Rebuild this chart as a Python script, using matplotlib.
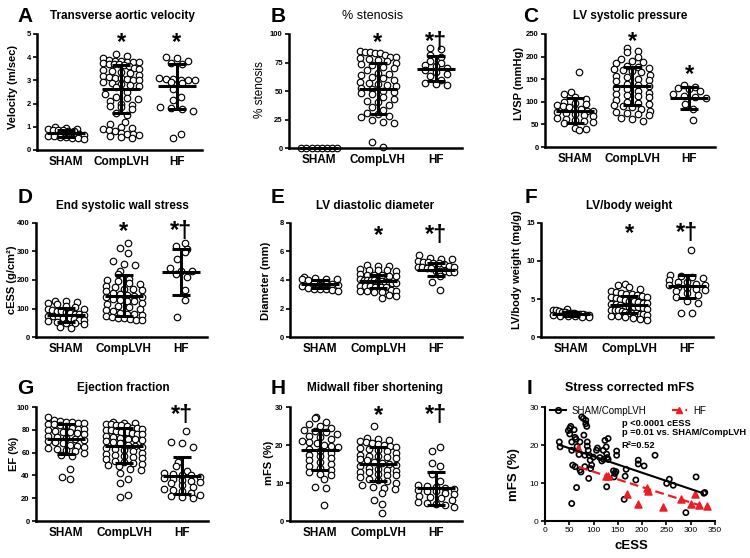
import numpy as np
import matplotlib
matplotlib.use('Agg')
import matplotlib.pyplot as plt
from matplotlib.lines import Line2D

plt.rcParams['font.family'] = ['Liberation Sans', 'DejaVu Sans']

W, H = 750, 558
groups = ['SHAM', 'CompLVH', 'HF']

# A - transverse aortic velocity (m/sec)
vel_sham = [1.0, 0.95, 0.92, 0.9, 0.88, 0.85, 0.85, 0.82, 0.8, 0.7, 0.65, 0.62, 0.6, 0.58, 0.55,
            0.52, 0.5, 0.47]
vel_comp = [4.15, 4.05, 3.95, 3.9, 3.85, 3.82, 3.8, 3.8, 3.78, 3.75, 3.72, 3.7, 3.7, 3.65, 3.6,
            3.55, 3.5, 3.45, 3.4, 3.35, 3.3, 3.25, 3.2, 3.15, 3.1, 3.1, 3.05, 3.0, 3.0, 2.95, 2.9,
            2.85, 2.8, 2.75, 2.7, 2.5, 2.4, 2.3, 2.25, 2.2, 2.1, 2.0, 1.95, 1.9, 1.85, 1.75, 1.6,
            1.5, 1.2, 1.1, 1.0, 0.95, 0.9, 0.85, 0.8, 0.75, 0.7, 0.7, 0.65, 0.6, 0.55, 0.5]
vel_hf = [4.0, 3.95, 3.85, 3.75, 3.7, 3.1, 3.05, 3.05, 3.0, 3.0, 3.0, 2.95, 2.9, 2.65, 2.3, 2.15,
          1.85, 1.8, 1.75, 1.7, 0.7, 0.5]
vel_mean = [0.72, 2.62, 2.74]
vel_sd = [0.14, 1.04, 0.98]

# B - % stenosis
sten_sham = [0, 0, 0, 0, 0, 0, 0, 0]
sten_comp = [85, 84, 84, 83, 83, 82, 80, 80, 79, 78, 77, 76, 75, 74, 73, 71, 70, 68, 66, 65, 64,
             62, 61, 60, 58, 57, 56, 55, 54, 53, 52, 50, 49, 48, 47, 45, 43, 41, 40, 38, 36, 33,
             31, 30, 28, 27, 25, 23, 22, 5, 1]
sten_hf = [88, 87, 82, 80, 76, 75, 73, 72, 70, 68, 67, 65, 63, 60, 57, 56, 55]
sten_mean = [0, 52, 69.5]
sten_sd = [0, 22.3, 11]

# C - LV systolic pressure (mmHg)
lvsp_sham = [167, 122, 118, 110, 107, 100, 98, 95, 92, 90, 88, 85, 83, 80, 80, 78, 75, 72, 70, 68,
             65, 62, 60, 58, 55, 52, 42, 40, 38]
lvsp_comp = [218, 213, 210, 200, 195, 190, 188, 185, 180, 178, 175, 172, 170, 168, 165, 160, 158,
             155, 150, 148, 145, 140, 138, 135, 130, 128, 125, 120, 118, 115, 112, 110, 105, 100,
             98, 95, 92, 90, 88, 85, 80, 78, 75, 72, 70, 65, 63, 57]
lvsp_hf = [137, 133, 130, 128, 125, 118, 112, 110, 108, 95, 85, 60]
lvsp_mean = [80.5, 136, 108.5]
lvsp_sd = [28, 42, 24]

# D - end systolic wall stress (g/cm2)
cess_sham = [128, 125, 122, 118, 115, 110, 105, 100, 98, 95, 92, 90, 88, 85, 82, 80, 78, 75, 72, 70,
             68, 65, 62, 60, 58, 55, 52, 50, 48, 45, 35, 32]
cess_comp = [330, 312, 293, 265, 255, 252, 230, 220, 205, 200, 195, 190, 185, 180, 175, 170, 168,
             165, 160, 155, 150, 148, 145, 142, 140, 135, 130, 128, 125, 120, 115, 110, 105, 100,
             95, 90, 85, 82, 80, 78, 75, 70, 68, 65, 62, 60, 60]
cess_hf = [330, 318, 310, 298, 272, 242, 232, 230, 222, 212, 165, 130, 70]
cess_mean = [76, 145, 229]
cess_sd = [25, 71, 81]

# E - LV diastolic diameter (mm)
diam_sham = [4.2, 4.15, 4.1, 4.1, 4.05, 4.0, 3.8, 3.75, 3.75, 3.7, 3.65, 3.6, 3.45, 3.4, 3.35,
             3.35, 3.3, 3.25]
diam_comp = [5.05, 5.0, 4.95, 4.75, 4.72, 4.7, 4.68, 4.65, 4.4, 4.38, 4.35, 4.33, 4.3, 4.3, 4.05,
             4.02, 4.0, 4.0, 3.98, 3.95, 3.9, 3.88, 3.85, 3.82, 3.8, 3.6, 3.58, 3.55, 3.52, 3.5,
             3.48, 3.3, 3.25, 3.22, 3.2, 3.18, 3.15, 2.95, 2.9, 2.75]
diam_hf = [5.75, 5.55, 5.5, 5.45, 5.3, 5.28, 5.25, 5.2, 5.2, 5.15, 4.95, 4.92, 4.9, 4.88, 4.85,
           4.82, 4.65, 4.62, 4.6, 4.58, 4.55, 4.3, 3.85, 3.3]
diam_mean = [3.74, 3.92, 4.72]
diam_sd = [0.28, 0.45, 0.45]

# F - LV/body weight (mg/g)
lvbw_sham = [3.7, 3.6, 3.5, 3.4, 3.35, 3.3, 3.2, 3.15, 3.1, 3.05, 3.0, 3.0, 2.95, 2.9, 2.85, 2.8,
             2.75, 2.7, 2.65, 2.6]
lvbw_comp = [7.0, 6.8, 6.6, 6.3, 6.0, 5.9, 5.8, 5.7, 5.6, 5.5, 5.4, 5.3, 5.2, 5.1, 5.0, 4.9, 4.8,
             4.7, 4.6, 4.5, 4.5, 4.4, 4.3, 4.2, 4.1, 4.0, 4.0, 3.9, 3.8, 3.7, 3.6, 3.6, 3.5, 3.4,
             3.3, 3.2, 3.2, 3.1, 3.0, 3.0, 2.9, 2.8, 2.7, 2.6, 2.5, 2.4, 2.2]
lvbw_hf = [11.5, 8.2, 8.0, 7.9, 7.7, 7.5, 7.3, 7.2, 7.0, 6.9, 6.8, 6.6, 6.5, 6.3, 6.2, 6.0, 5.8,
           5.5, 5.2, 4.8, 4.5, 3.2, 3.2]
lvbw_mean = [3.05, 4.25, 6.65]
lvbw_sd = [0.3, 1.15, 1.55]

# G - ejection fraction (%)
ef_sham = [91, 89, 88, 87, 87, 86, 86, 85, 85, 84, 83, 82, 81, 81, 80, 79, 78, 78, 77, 76, 75, 74,
           73, 72, 71, 70, 69, 68, 67, 66, 65, 64, 63, 62, 61, 60, 58, 57, 46, 39, 37]
ef_comp = [87, 86, 86, 85, 85, 84, 84, 83, 82, 82, 81, 80, 80, 79, 78, 78, 77, 76, 76, 75, 74, 73,
           72, 72, 71, 70, 69, 68, 67, 66, 65, 64, 63, 62, 61, 60, 59, 58, 57, 56, 55, 54, 53, 52,
           51, 50, 49, 48, 46, 45, 42, 37, 33, 23, 21]
ef_hf = [79, 69, 68, 65, 52, 48, 44, 42, 41, 40, 40, 39, 38, 37, 36, 35, 34, 33, 32, 30, 28, 27, 26,
         25, 23, 22, 21, 20]
ef_mean = [72, 66, 39.7]
ef_sd = [13.5, 15.5, 16.2]

# H - midwall fiber shortening (%)
mfs_sham = [27.5, 27.0, 26, 25.5, 25, 24.5, 24, 23.8, 23.5, 23, 22.5, 22, 21.5, 21, 20.8, 20.5, 20,
            19.8, 19.5, 19, 18.5, 18, 17.5, 17, 16.5, 16, 15.5, 15, 14.5, 14, 13.5, 13, 12.5, 12,
            11, 9, 8.8, 4.3]
mfs_comp = [25, 21.8, 21.5, 21.2, 21, 20.8, 20.5, 20.2, 20, 19.8, 19.5, 19.2, 19, 18.8, 18.5, 18,
            17.5, 17.2, 17, 16.8, 16.5, 16.2, 16, 15.5, 15.2, 15, 14.8, 14.5, 14, 13.8, 13.5, 13.2,
            13, 12.8, 12.5, 12.2, 12, 11.5, 11, 10.8, 10.5, 10, 9.5, 9, 8.8, 8.5, 7.5, 5.5, 4.5, 2]
mfs_hf = [19.5, 18.5, 15.2, 14.5, 12.5, 10.5, 9.5, 9.2, 9, 8.8, 8.5, 8.2, 8, 7.8, 7.5, 7, 6.5, 6.2,
          6, 5.5, 5, 4.8, 4.5, 4.2, 3.8]
mfs_mean = [18.7, 15.0, 8.6]
mfs_sd = [5.2, 4.5, 4.3]

# I - stress corrected mFS
ess_sc = [29.5, 31, 48, 51, 53, 51, 55, 55, 55, 57, 62, 60, 62, 64, 65, 66, 70, 72, 72, 74, 75.5, 79,
          80, 82, 82, 84, 84, 86, 87, 87, 89, 90, 91, 93, 94, 96, 99.5, 106, 108, 113, 117, 120,
          121, 123.5, 126, 127, 127, 128, 130, 130, 141, 142, 144, 146, 147.5, 147.5, 165, 167, 163,
          187, 192, 192, 204, 226.5, 250.5, 256, 264, 290, 311, 329, 327]
mfs_sc = [20.8, 19.5, 23.8, 24.4, 24.9, 22.9, 20.8, 18.6, 4.6, 14.7, 14.3, 24, 22, 21.5, 8.8, 19.6,
          17.5, 13.4, 20.8, 12.9, 27.4, 27, 22.6, 14.3, 17.3, 26.5, 25.6, 24.9, 20.8, 19.7, 18.6,
          11.2, 17.3, 16, 13.8, 14.7, 16.8, 18.6, 19.2, 16.7, 15.8, 18.6, 16.2, 21.2, 19.5, 9, 17.6,
          16.7, 16.2, 21.7, 13.2, 11.6, 12.5, 13, 18.4, 17.3, 11.8, 13.6, 5.7, 10.8, 16, 15, 14.5,
          17.3, 9.9, 11, 9.4, 2.2, 11.6, 7.5, 7.3]
ess_hf = [68.7, 125.6, 130, 168, 192, 211, 213, 243.6, 281, 300, 309, 318, 334]
mfs_hf_sc = [19.1, 11.8, 11.8, 7, 4.5, 8.8, 8, 3.6, 5.9, 4.6, 7.1, 4.2, 3.9]
fit_sc = [21.3, -0.043, 30, 325]     # intercept, slope, x from, x to
fit_hf = [17.0, -0.0404, 70, 330]
stats_text = ['p <0.0001 cESS', 'p =0.01 vs. SHAM/CompLVH', 'R²=0.52']

panels = [
    dict(letter='A', title='Transverse aortic velocity', ylabel='Velocity (m/sec)',
         data=[vel_sham, vel_comp, vel_hf], mean=vel_mean, sd=vel_sd,
         ylim=5, yticks=[0, 1, 2, 3, 4, 5], stars=[(1, '*', 4.35), (2, '*', 4.35)],
         rect=(37, 34, 202, 150), lpos=(25, 17), tpos=(122, 16), ypos=(13, 87)),
    dict(letter='B', title='% stenosis', ylabel='% stenosis',
         data=[sten_sham, sten_comp, sten_hf], mean=sten_mean, sd=sten_sd,
         ylim=100, yticks=[0, 25, 50, 75, 100], stars=[(1, '*', 87), (2, '*†', 87)],
         rect=(289, 34, 462, 148), lpos=(278, 17), tpos=(373, 16), ypos=(260, 90), light=True),
    dict(letter='C', title='LV systolic pressure', ylabel='LVSP (mmHg)',
         data=[lvsp_sham, lvsp_comp, lvsp_hf], mean=lvsp_mean, sd=lvsp_sd,
         ylim=250, yticks=[0, 50, 100, 150, 200, 250], stars=[(1, '*', 218), (2, '*', 145)],
         rect=(545, 34, 715, 147), lpos=(531, 17), tpos=(630, 16), ypos=(519, 83)),
    dict(letter='D', title='End systolic wall stress', ylabel='cESS (g/cm²)',
         data=[cess_sham, cess_comp, cess_hf], mean=cess_mean, sd=cess_sd,
         ylim=400, yticks=[0, 100, 200, 300, 400], stars=[(1, '*', 348), (2, '*†', 348)],
         rect=(36, 223, 207, 337), lpos=(25, 197), tpos=(122, 206), ypos=(12, 280)),
    dict(letter='E', title='LV diastolic diameter', ylabel='Diameter (mm)',
         data=[diam_sham, diam_comp, diam_hf], mean=diam_mean, sd=diam_sd,
         ylim=8, yticks=[0, 2, 4, 6, 8], stars=[(1, '*', 6.7), (2, '*†', 6.7)],
         rect=(290, 223, 462, 337), lpos=(278, 197), tpos=(375, 206), ypos=(266, 281)),
    dict(letter='F', title='LV/body weight', ylabel='LV/body weight (mg/g)',
         data=[lvbw_sham, lvbw_comp, lvbw_hf], mean=lvbw_mean, sd=lvbw_sd,
         ylim=15, yticks=[0, 5, 10, 15], stars=[(1, '*', 12.8), (2, '*†', 12.8)],
         rect=(541, 223, 713, 337), lpos=(531, 197), tpos=(629, 206), ypos=(517, 270)),
    dict(letter='G', title='Ejection fraction', ylabel='EF (%)',
         data=[ef_sham, ef_comp, ef_hf], mean=ef_mean, sd=ef_sd,
         ylim=100, yticks=[0, 20, 40, 60, 80, 100], stars=[(2, '*†', 87)],
         rect=(36, 407, 208, 521), lpos=(25, 388), tpos=(123, 388), ypos=(14, 454)),
    dict(letter='H', title='Midwall fiber shortening', ylabel='mFS (%)',
         data=[mfs_sham, mfs_comp, mfs_hf], mean=mfs_mean, sd=mfs_sd,
         ylim=30, yticks=[0, 10, 20, 30], stars=[(1, '*', 26), (2, '*†', 26)],
         rect=(290, 407, 462, 521), lpos=(278, 388), tpos=(375, 388), ypos=(269, 463)),
]


def px_axes(fig, l, t, r, b):
    return fig.add_axes([l / W, 1 - b / H, (r - l) / W, (b - t) / H])


def ftext(fig, x, y, s, **kw):
    fig.text(x / W, 1 - y / H, s, ha='center', va='center', **kw)


def rows_x(ax, vals, pos, hb=6.0, smax=11.0, maxw=36):
    # prism-like scatter: points binned in rows, spread across the row width
    tr = ax.transData
    inv = tr.inverted()
    x0 = tr.transform((pos, 0))[0]
    ypx = np.array([tr.transform((pos, v))[1] for v in vals])
    bins = np.round(ypx / hb).astype(int)
    out = np.zeros(len(vals))
    for b in np.unique(bins):
        idx = np.where(bins == b)[0]
        n = len(idx)
        if n == 1:
            offs = np.array([4.0 if b % 2 else -4.0])
        else:
            step = min(smax, maxw / (n - 1))
            offs = (np.arange(n) - (n - 1) / 2) * step
        for k, i in enumerate(idx):
            out[i] = inv.transform((x0 + offs[k], ypx[i]))[0]
    return out


def style_axes(ax, lw=1.8):
    for s in ['top', 'right']:
        ax.spines[s].set_visible(False)
    for s in ['left', 'bottom']:
        ax.spines[s].set_linewidth(lw)


fig = plt.figure(figsize=(W / 100, H / 100), dpi=100)

for p in panels:
    ax = px_axes(fig, *p['rect'])
    ax.set_xlim(0.48, 3.45)
    ax.set_ylim(0, p['ylim'])
    style_axes(ax)
    ax.set_yticks(p['yticks'])
    ax.set_xticks([1, 2, 3])
    ax.set_xticklabels(groups, fontsize=8.5, fontweight='bold')
    ax.tick_params(axis='x', length=0, pad=4)
    ax.tick_params(axis='y', direction='out', length=3, width=1.2, labelsize=5.5, pad=1.5)
    for lab in ax.get_yticklabels():
        lab.set_fontweight('bold')

    # half widths of mean bar and caps in data units (from pixels)
    upx = (3.45 - 0.48) / (p['rect'][2] - p['rect'][0])
    hw, cw = 19 * upx, 9 * upx
    for g, vals in enumerate(p['data']):
        pos = g + 1
        xs = rows_x(ax, vals, pos)
        ax.scatter(xs, vals, s=22, facecolors='white', edgecolors='black',
                   linewidths=0.85, zorder=2, clip_on=False)
        m, sd = p['mean'][g], p['sd'][g]
        kw = dict(color='black', lw=2.2, zorder=3, solid_capstyle='butt', clip_on=False)
        ax.plot([pos - hw, pos + hw], [m, m], **kw)
        if sd > 0:
            ax.plot([pos, pos], [m - sd, m + sd], **kw)
            ax.plot([pos - cw, pos + cw], [m + sd, m + sd], **kw)
            ax.plot([pos - cw, pos + cw], [m - sd, m - sd], **kw)
    for g, s, y in p['stars']:
        ax.text(g + 1, y, s, ha='center', va='baseline', fontsize=17, fontweight='bold')

    light = p.get('light', False)
    ftext(fig, *p['lpos'], p['letter'], fontsize=15, fontweight='bold')
    ftext(fig, *p['tpos'], p['title'], fontsize=9 if light else 8.5,
          fontweight='normal' if light else 'bold')
    ftext(fig, *p['ypos'], p['ylabel'], fontsize=8.5 if light else 8, rotation=90,
          fontweight='normal' if light else 'bold')

# panel I
ax = px_axes(fig, 545, 407, 715, 521)
ax.set_xlim(0, 350)
ax.set_ylim(0, 30)
style_axes(ax, lw=1.5)
ax.set_xticks(range(0, 351, 50))
ax.set_yticks([0, 10, 20, 30])
ax.tick_params(direction='out', length=3, width=1.2, labelsize=6, pad=1.5)
ax.scatter(ess_sc, mfs_sc, s=14, facecolors='none', edgecolors='black', linewidths=1.2, zorder=2)
ax.scatter(ess_hf, mfs_hf_sc, s=26, marker='^', color='#ee1c24', zorder=3)
xb = np.array(fit_sc[2:])
ax.plot(xb, fit_sc[0] + fit_sc[1] * xb, color='black', lw=1.5, zorder=4)
xr = np.array(fit_hf[2:])
ax.plot(xr, fit_hf[0] + fit_hf[1] * xr, color='#ee1c24', lw=1.6, ls=(0, (4, 2)), zorder=4)
handles = [Line2D([], [], color='black', lw=1.5, marker='o', mfc='none', mew=1.2, ms=4),
           Line2D([], [], color='#ee1c24', lw=1.6, ls=(0, (4, 2)), marker='^', ms=5)]
ax.legend(handles, ['SHAM/CompLVH', 'HF'], loc='upper left', bbox_to_anchor=(0.03, 1.01),
          ncol=2, frameon=False, fontsize=7, handlelength=1.6, handletextpad=0.6,
          columnspacing=2.6, borderpad=0, borderaxespad=0)
for s, y in zip(stats_text, [25.6, 23.3, 20.0]):
    ax.text(158, y, s, ha='left', va='center', fontsize=6.7, fontweight='bold')
ftext(fig, 529, 389, 'I', fontsize=15, fontweight='bold')
ftext(fig, 630, 388, 'Stress corrected mFS', fontsize=9, fontweight='bold')
ftext(fig, 514, 475, 'mFS (%)', fontsize=9.5, fontweight='bold', rotation=90)
ftext(fig, 631, 546, 'cESS', fontsize=9.5, fontweight='bold')

fig.savefig('out.png', dpi=100)
